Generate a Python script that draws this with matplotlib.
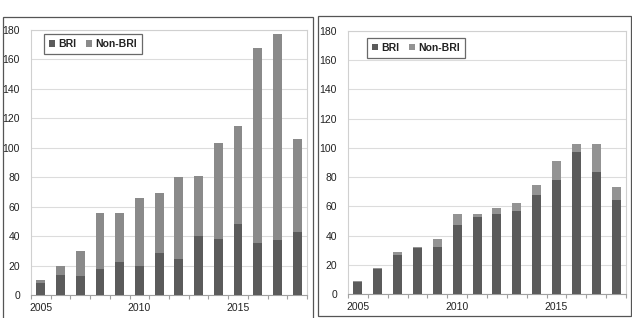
import matplotlib
matplotlib.use("Agg")
import matplotlib.pyplot as plt
from matplotlib.patches import Rectangle
import numpy as np

plt.rcParams['font.family'] = ['Liberation Sans', 'DejaVu Sans']

years = list(range(2005, 2019))
left_bri = [8, 13.5, 13, 17.5, 22.5, 20, 28.5, 24.5, 40, 38, 48, 35.5, 37.5, 43]
left_total = [10, 20, 30, 56, 56, 66, 69, 80, 81, 103, 115, 168, 177, 106]
right_bri = [8.5, 17, 27, 31.5, 32, 47, 53, 55, 56.5, 68, 78, 97, 83.5, 64]
right_total = [9, 17.5, 29, 32, 37.5, 55, 55, 59, 62, 74.5, 91, 103, 103, 73]
xtick_years = [2005, 2010, 2015]
yticks = [0, 20, 40, 60, 80, 100, 120, 140, 160, 180]
series_names = ["BRI", "Non-BRI"]

c_bri = "#5b5b5b"
c_non_left = "#8a8a8a"
c_non_right = "#939393"

W, H = 632, 318
fig = plt.figure(figsize=(W / 100, H / 100), dpi=100)

def px_axes(x0, x1, ytop, ybot):
    return fig.add_axes([x0 / W, (H - ybot) / H, (x1 - x0) / W, (ybot - ytop) / H])

FS = 7.5

def draw(ax, bri, total, cnon, leg_loc):
    x = np.arange(len(years))
    non = np.array(total) - np.array(bri)
    ax.bar(x, bri, width=0.45, color=c_bri, label=series_names[0], zorder=3)
    ax.bar(x, non, width=0.45, bottom=bri, color=cnon, label=series_names[1], zorder=3)
    ax.set_xlim(-0.5, len(years) - 0.5)
    ax.set_ylim(0, 180)
    ax.set_yticks(yticks)
    ax.set_yticklabels([str(v) for v in yticks], fontsize=FS, color="#222222")
    ax.tick_params(axis='y', length=0, pad=8)
    ax.yaxis.grid(True, color="#dcdcdc", linewidth=0.8, zorder=0)
    ax.set_axisbelow(True)
    ax.set_xticks(np.arange(-0.5, len(years), 1.0))
    ax.set_xticklabels([])
    ax.tick_params(axis='x', which='major', length=3, color="#a0a0a0", width=0.8, direction='out')
    ax.set_xticks([years.index(y) for y in xtick_years], minor=True)
    ax.set_xticklabels([str(y) for y in xtick_years], minor=True, fontsize=FS, color="#222222")
    ax.tick_params(axis='x', which='minor', length=0, pad=6)
    for s in ['top', 'right', 'left']:
        ax.spines[s].set_color("#d0d0d0")
        ax.spines[s].set_linewidth(0.8)
    ax.spines['bottom'].set_color("#a0a0a0")
    ax.spines['bottom'].set_linewidth(0.8)
    leg = ax.legend(loc='upper left', bbox_to_anchor=leg_loc, ncol=2,
                    prop={'weight': 'bold', 'size': FS}, frameon=True, fancybox=False,
                    handlelength=0.55, handleheight=0.55, handletextpad=0.3,
                    columnspacing=1.0, borderpad=0.5, borderaxespad=0)
    leg.get_frame().set_edgecolor("#444444")
    leg.get_frame().set_linewidth(0.9)
    for t in leg.get_texts():
        t.set_color("#222222")

ax1 = px_axes(31, 307, 30, 295)
draw(ax1, left_bri, left_total, c_non_left, (0.047, 0.985))
ax2 = px_axes(348, 626, 31, 294)
draw(ax2, right_bri, right_total, c_non_right, (0.068, 0.975))

for (x0, x1, y0, y1) in [(3, 313, 17, 319), (318, 631, 16, 316)]:
    fig.add_artist(Rectangle((x0 / W, (H - y1) / H), (x1 - x0) / W, (y1 - y0) / H,
                             transform=fig.transFigure, fill=False,
                             edgecolor="#555555", linewidth=0.9))

fig.savefig("out.png", dpi=100)
